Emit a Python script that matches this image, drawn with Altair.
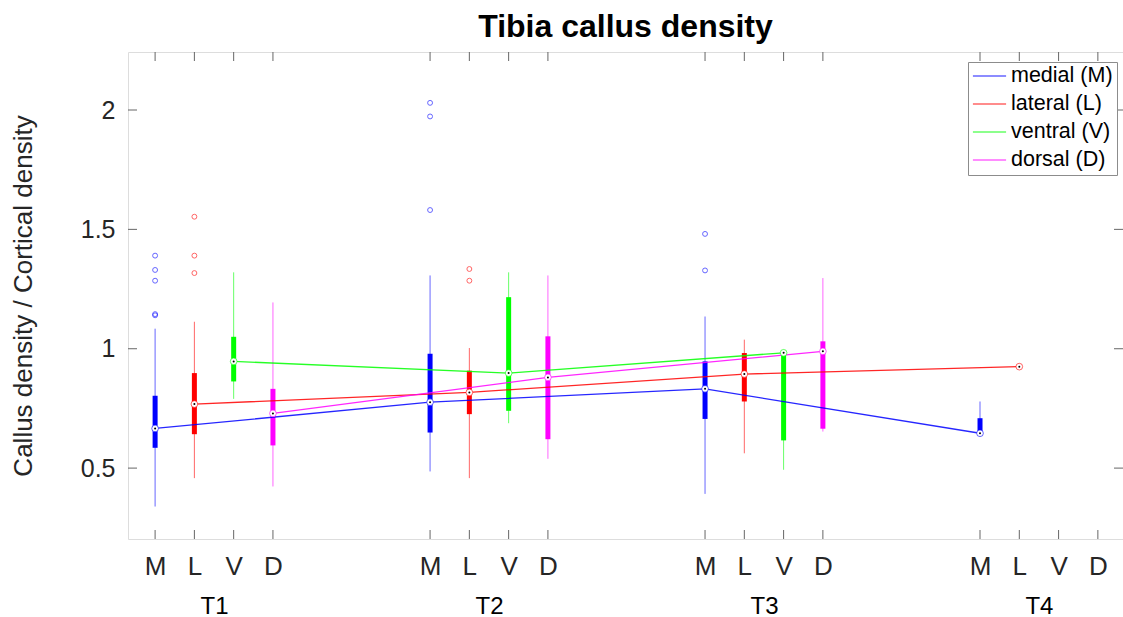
import altair as alt
import pandas as pd

times = ["T1", "T2", "T3", "T4"]
site_codes = ["M", "L", "V", "D"]
site_names = ["medial (M)", "lateral (L)", "ventral (V)", "dorsal (D)"]
colors = ["#0000FF", "#FF0000", "#00FF00", "#FF00FF"]

# slot positions on the x axis (4 sites per time point, gap between groups)
tick_positions = [1, 2, 3, 4, 8, 9, 10, 11, 15, 16, 17, 18, 22, 23, 24, 25]
y_ticks = [0.5, 1, 1.5, 2]

# box statistics per site, per time point (None = no data)
lower_whisker = {
    "M": [0.339, 0.486, 0.392, 0.640],
    "L": [0.458, 0.458, 0.562, 0.918],
    "V": [0.790, 0.688, 0.493, None],
    "D": [0.423, 0.539, 0.653, None],
}
q1 = {
    "M": [0.585, 0.649, 0.706, 0.640],
    "L": [0.642, 0.726, 0.779, 0.920],
    "V": [0.863, 0.740, 0.616, None],
    "D": [0.595, 0.621, 0.665, None],
}
median = {
    "M": [0.666, 0.776, 0.832, 0.646],
    "L": [0.768, 0.817, 0.894, 0.925],
    "V": [0.947, 0.898, 0.983, None],
    "D": [0.729, 0.880, 0.989, None],
}
q3 = {
    "M": [0.803, 0.979, 0.947, 0.709],
    "L": [0.898, 0.908, 0.982, 0.930],
    "V": [1.050, 1.216, 0.985, None],
    "D": [0.832, 1.052, 1.031, None],
}
upper_whisker = {
    "M": [1.084, 1.307, 1.135, 0.779],
    "L": [1.113, 1.003, 1.038, 0.932],
    "V": [1.320, 1.320, 0.990, None],
    "D": [1.194, 1.307, 1.296, None],
}
outliers = {
    "M": [[1.39, 1.33, 1.285, 1.14, 1.145], [2.03, 1.973, 1.581], [1.481, 1.328], []],
    "L": [[1.553, 1.39, 1.317], [1.334, 1.285], [], []],
    "V": [[], [], [], []],
    "D": [[], [], [], []],
}

box_rows, out_rows = [], []
for si, s in enumerate(site_codes):
    for ti, t in enumerate(times):
        pos = tick_positions[ti * 4 + si]
        if median[s][ti] is not None:
            box_rows.append(dict(series=site_names[si], time=t, pos=pos,
                                 lo=lower_whisker[s][ti], q1=q1[s][ti], med=median[s][ti],
                                 q3=q3[s][ti], hi=upper_whisker[s][ti]))
        for v in outliers[s][ti]:
            out_rows.append(dict(series=site_names[si], pos=pos, val=v))
box_df = pd.DataFrame(box_rows)
out_df = pd.DataFrame(out_rows)
xt_df = pd.DataFrame({"pos": tick_positions})
yt_df = pd.DataFrame({"v": y_ticks})
group_df = pd.DataFrame({"center": [sum(tick_positions[i*4:i*4+4]) / 4 for i in range(4)],
                         "label": times})

W, H = 995, 487
FONT = "Liberation Sans"
xscale = alt.Scale(domain=[0.31, 25.64], nice=False, zero=False)
yscale = alt.Scale(domain=[0.203, 2.243], nice=False, zero=False)
cscale = alt.Scale(domain=site_names, range=colors)

x_axis = alt.Axis(values=tick_positions, orient="bottom", ticks=False, domain=False,
                  grid=False, labelExpr="['M','L','V','D'][(datum.value - 1) % 7]",
                  labelFontSize=26, labelFont=FONT, labelColor="#262626",
                  labelPadding=14, labelFlush=False, title=None)
y_axis = alt.Axis(values=y_ticks, format="~g", ticks=False, domain=False, grid=False,
                  labelFontSize=25, labelFont=FONT, labelColor="#262626",
                  labelPadding=13, title="Callus density / Cortical density",
                  titleFontSize=26, titleFont=FONT,
                  titleFontWeight="normal", titleColor="#262626", titlePadding=44)
legend = alt.Legend(title=None, orient="none", legendX=840, legendY=10,
                    symbolType="stroke", symbolSize=1100, symbolStrokeWidth=1.5,
                    clipHeight=20,
                    labelFontSize=21.5, labelFont=FONT, labelColor="black",
                    strokeColor="#8c8c8c", fillColor="white", padding=4,
                    rowPadding=6, labelOffset=4)


def X(field):
    return alt.X(f"{field}:Q", scale=xscale, axis=x_axis)


def Y(field):
    return alt.Y(f"{field}:Q", scale=yscale, axis=y_axis)


C = alt.Color("series:N", scale=cscale, legend=legend)

whisk = alt.Chart(box_df).mark_rule(strokeWidth=1, opacity=0.6).encode(
    x=X("pos"), y=Y("lo"), y2="hi:Q", color=C)
box = alt.Chart(box_df).mark_rule(strokeWidth=5).encode(
    x=X("pos"), y=Y("q1"), y2="q3:Q", color=C)
lines = alt.Chart(box_df).mark_line(strokeWidth=1.3, opacity=0.85).encode(
    x=X("pos"), y=Y("med"), order="pos:Q", color=C)
med_c = alt.Chart(box_df).mark_point(shape="circle", size=45, filled=False, fill="white",
                                     fillOpacity=1, strokeWidth=1, strokeOpacity=0.6).encode(
    x=X("pos"), y=Y("med"), color=C)
med_d = alt.Chart(box_df).mark_point(shape="circle", size=4, filled=True, color="black",
                                     opacity=1).encode(x=X("pos"), y=Y("med"))
outl = alt.Chart(out_df).mark_point(shape="circle", size=24, filled=False, strokeWidth=1,
                                    opacity=0.6).encode(x=X("pos"), y=Y("val"), color=C)

tick_color = "#666666"
bt = alt.Chart(xt_df).mark_rule(color=tick_color, strokeWidth=1).encode(
    x=X("pos"), y=alt.value(H), y2=alt.value(H - 9))
tt = alt.Chart(xt_df).mark_rule(color=tick_color, strokeWidth=1).encode(
    x=X("pos"), y=alt.value(0), y2=alt.value(9))
lt = alt.Chart(yt_df).mark_rule(color=tick_color, strokeWidth=1).encode(
    y=Y("v"), x=alt.value(0), x2=alt.value(9))
rt = alt.Chart(yt_df).mark_rule(color=tick_color, strokeWidth=1).encode(
    y=Y("v"), x=alt.value(W), x2=alt.value(W - 9))

main = alt.layer(whisk, box, lines, med_c, med_d, outl, bt, tt, lt, rt)

groups = alt.Chart(group_df).mark_point(opacity=0).encode(
    x=alt.X("center:Q", scale=xscale, title=None,
            axis=alt.Axis(values=list(group_df["center"]), orient="bottom", ticks=False,
                          domain=False, grid=False, title=None,
                          labelExpr="['T1','T2','T3','T4'][indexof([2.5,9.5,16.5,23.5], datum.value)]",
                          labelFontSize=24, labelFont=FONT, labelColor="black",
                          labelPadding=55, labelFlush=False)))

chart = alt.layer(main, groups).resolve_scale(x="independent").properties(
    width=W, height=H,
    title=alt.TitleParams("Tibia callus density", fontSize=32, fontWeight="bold", font=FONT,
                          color="black", anchor="middle", offset=8),
    padding={"left": 128, "top": 52, "right": 0, "bottom": 78},
    autosize=alt.AutoSizeParams(type="none"),
).configure_view(stroke="#8c8c8c", strokeWidth=1).configure(background="white")

chart.save("out.html", embed_options={"renderer": "svg", "actions": False})
